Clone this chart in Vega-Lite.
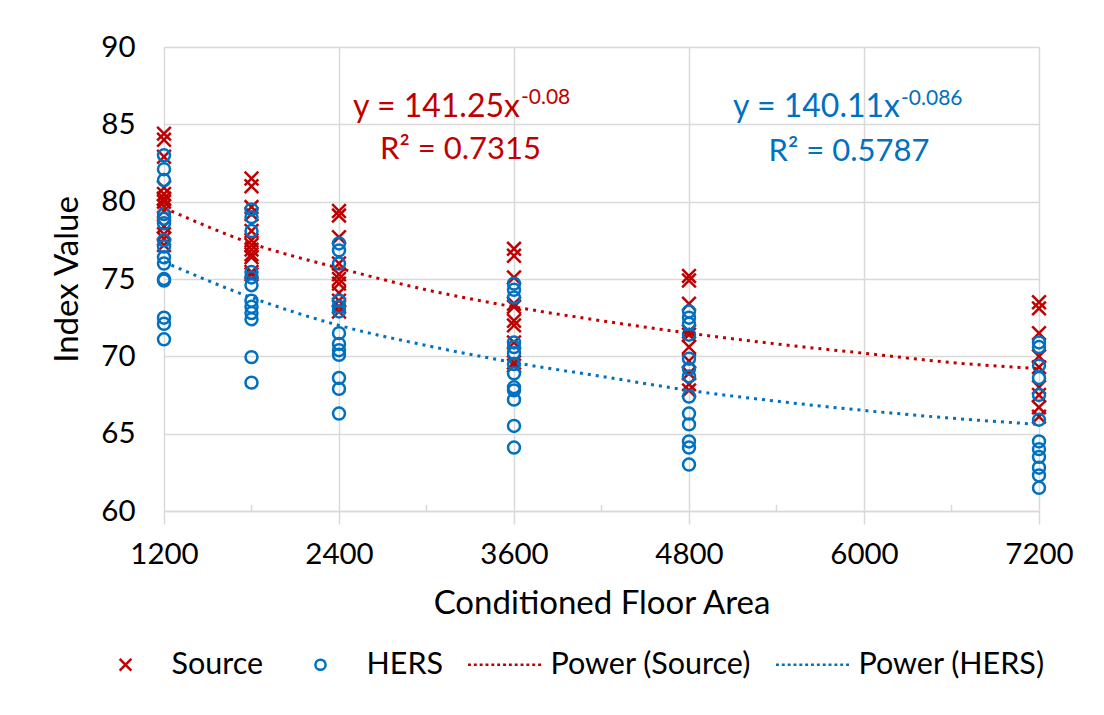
{
  "$schema": "https://vega.github.io/schema/vega-lite/v6.json",
  "width": 875,
  "height": 464,
  "autosize": "none",
  "padding": {"left": 164, "top": 47, "right": 65, "bottom": 204},
  "background": "white",
  "config": {
    "font": "Lato",
    "view": {"stroke": null},
    "axis": {
      "labelFont": "Lato", "titleFont": "Lato",
      "labelColor": "#000000", "titleColor": "#000000",
      "labelFontSize": 29.5, "titleFontSize": 33, "titleFontWeight": "normal",
      "gridColor": "#D9D9D9", "gridWidth": 1.5,
      "domainColor": "#D9D9D9", "domainWidth": 1.5,
      "tickColor": "#D9D9D9", "tickWidth": 1.5
    }
  },
  "datasets": {
    "pts": [
      {"series":"Source","area":1200,"value":84.4},{"series":"Source","area":1200,"value":84.0},{"series":"Source","area":1200,"value":82.9},{"series":"Source","area":1200,"value":80.9},{"series":"Source","area":1200,"value":80.5},{"series":"Source","area":1200,"value":80.2},{"series":"Source","area":1200,"value":80.0},{"series":"Source","area":1200,"value":79.7},{"series":"Source","area":1200,"value":79.4},{"series":"Source","area":1200,"value":78.4},{"series":"Source","area":1200,"value":77.9},{"series":"Source","area":1200,"value":77.6},{"series":"Source","area":1200,"value":77.2},
      {"series":"Source","area":1800,"value":81.5},{"series":"Source","area":1800,"value":81.0},{"series":"Source","area":1800,"value":79.65},{"series":"Source","area":1800,"value":79.2},{"series":"Source","area":1800,"value":78.1},{"series":"Source","area":1800,"value":77.5},{"series":"Source","area":1800,"value":77.2},{"series":"Source","area":1800,"value":76.9},{"series":"Source","area":1800,"value":76.6},{"series":"Source","area":1800,"value":76.4},{"series":"Source","area":1800,"value":75.45},{"series":"Source","area":1800,"value":75.3},
      {"series":"Source","area":2400,"value":79.4},{"series":"Source","area":2400,"value":79.1},{"series":"Source","area":2400,"value":77.7},{"series":"Source","area":2400,"value":76.0},{"series":"Source","area":2400,"value":75.3},{"series":"Source","area":2400,"value":75.0},{"series":"Source","area":2400,"value":74.7},{"series":"Source","area":2400,"value":74.1},{"series":"Source","area":2400,"value":73.6},{"series":"Source","area":2400,"value":73.2},{"series":"Source","area":2400,"value":72.9},
      {"series":"Source","area":3600,"value":76.95},{"series":"Source","area":3600,"value":76.5},{"series":"Source","area":3600,"value":75.1},{"series":"Source","area":3600,"value":73.4},{"series":"Source","area":3600,"value":73.2},{"series":"Source","area":3600,"value":72.3},{"series":"Source","area":3600,"value":72.0},{"series":"Source","area":3600,"value":70.9},{"series":"Source","area":3600,"value":69.6},{"series":"Source","area":3600,"value":69.4},
      {"series":"Source","area":4800,"value":75.2},{"series":"Source","area":4800,"value":74.9},{"series":"Source","area":4800,"value":73.4},{"series":"Source","area":4800,"value":71.6},{"series":"Source","area":4800,"value":71.4},{"series":"Source","area":4800,"value":70.6},{"series":"Source","area":4800,"value":69.7},{"series":"Source","area":4800,"value":68.9},{"series":"Source","area":4800,"value":68.2},{"series":"Source","area":4800,"value":67.8},
      {"series":"Source","area":7200,"value":73.5},{"series":"Source","area":7200,"value":73.1},{"series":"Source","area":7200,"value":71.5},{"series":"Source","area":7200,"value":70.0},{"series":"Source","area":7200,"value":69.3},{"series":"Source","area":7200,"value":68.0},{"series":"Source","area":7200,"value":67.5},{"series":"Source","area":7200,"value":66.7},{"series":"Source","area":7200,"value":66.1},
      {"series":"HERS","area":1200,"value":83.0},{"series":"HERS","area":1200,"value":82.1},{"series":"HERS","area":1200,"value":81.4},{"series":"HERS","area":1200,"value":79.2},{"series":"HERS","area":1200,"value":78.9},{"series":"HERS","area":1200,"value":78.6},{"series":"HERS","area":1200,"value":77.5},{"series":"HERS","area":1200,"value":77.1},{"series":"HERS","area":1200,"value":76.4},{"series":"HERS","area":1200,"value":76.0},{"series":"HERS","area":1200,"value":75.0},{"series":"HERS","area":1200,"value":74.9},{"series":"HERS","area":1200,"value":72.5},{"series":"HERS","area":1200,"value":72.1},{"series":"HERS","area":1200,"value":71.1},
      {"series":"HERS","area":1800,"value":79.5},{"series":"HERS","area":1800,"value":79.0},{"series":"HERS","area":1800,"value":78.1},{"series":"HERS","area":1800,"value":75.45},{"series":"HERS","area":1800,"value":75.1},{"series":"HERS","area":1800,"value":74.6},{"series":"HERS","area":1800,"value":73.6},{"series":"HERS","area":1800,"value":73.2},{"series":"HERS","area":1800,"value":72.8},{"series":"HERS","area":1800,"value":72.4},{"series":"HERS","area":1800,"value":69.95},{"series":"HERS","area":1800,"value":68.3},
      {"series":"HERS","area":2400,"value":77.3},{"series":"HERS","area":2400,"value":76.85},{"series":"HERS","area":2400,"value":76.0},{"series":"HERS","area":2400,"value":73.6},{"series":"HERS","area":2400,"value":73.2},{"series":"HERS","area":2400,"value":72.9},{"series":"HERS","area":2400,"value":71.5},{"series":"HERS","area":2400,"value":70.8},{"series":"HERS","area":2400,"value":70.4},{"series":"HERS","area":2400,"value":70.1},{"series":"HERS","area":2400,"value":68.6},{"series":"HERS","area":2400,"value":67.9},{"series":"HERS","area":2400,"value":66.3},
      {"series":"HERS","area":3600,"value":74.7},{"series":"HERS","area":3600,"value":74.3},{"series":"HERS","area":3600,"value":73.8},{"series":"HERS","area":3600,"value":70.9},{"series":"HERS","area":3600,"value":70.6},{"series":"HERS","area":3600,"value":70.2},{"series":"HERS","area":3600,"value":69.5},{"series":"HERS","area":3600,"value":68.9},{"series":"HERS","area":3600,"value":68.0},{"series":"HERS","area":3600,"value":67.8},{"series":"HERS","area":3600,"value":67.2},{"series":"HERS","area":3600,"value":65.5},{"series":"HERS","area":3600,"value":64.1},
      {"series":"HERS","area":4800,"value":72.9},{"series":"HERS","area":4800,"value":72.5},{"series":"HERS","area":4800,"value":72.1},{"series":"HERS","area":4800,"value":71.4},{"series":"HERS","area":4800,"value":69.85},{"series":"HERS","area":4800,"value":69.2},{"series":"HERS","area":4800,"value":68.7},{"series":"HERS","area":4800,"value":67.4},{"series":"HERS","area":4800,"value":66.3},{"series":"HERS","area":4800,"value":65.6},{"series":"HERS","area":4800,"value":64.5},{"series":"HERS","area":4800,"value":64.1},{"series":"HERS","area":4800,"value":63.0},
      {"series":"HERS","area":7200,"value":70.9},{"series":"HERS","area":7200,"value":70.6},{"series":"HERS","area":7200,"value":69.4},{"series":"HERS","area":7200,"value":68.6},{"series":"HERS","area":7200,"value":67.5},{"series":"HERS","area":7200,"value":65.9},{"series":"HERS","area":7200,"value":64.5},{"series":"HERS","area":7200,"value":64.0},{"series":"HERS","area":7200,"value":63.5},{"series":"HERS","area":7200,"value":62.8},{"series":"HERS","area":7200,"value":62.3},{"series":"HERS","area":7200,"value":61.5}
    ],
    "trend": [
      {"series":"Power (Source)","area":1200,"value":79.6},{"series":"Power (Source)","area":1800,"value":77.3},{"series":"Power (Source)","area":2400,"value":75.7},{"series":"Power (Source)","area":3000,"value":74.3},{"series":"Power (Source)","area":3600,"value":73.2},{"series":"Power (Source)","area":4200,"value":72.3},{"series":"Power (Source)","area":4800,"value":71.5},{"series":"Power (Source)","area":5400,"value":70.8},{"series":"Power (Source)","area":6000,"value":70.2},{"series":"Power (Source)","area":6600,"value":69.6},{"series":"Power (Source)","area":7200,"value":69.2},
      {"series":"Power (HERS)","area":1200,"value":76.1},{"series":"Power (HERS)","area":1800,"value":73.8},{"series":"Power (HERS)","area":2400,"value":72.0},{"series":"Power (HERS)","area":3000,"value":70.7},{"series":"Power (HERS)","area":3600,"value":69.6},{"series":"Power (HERS)","area":4200,"value":68.7},{"series":"Power (HERS)","area":4800,"value":67.8},{"series":"Power (HERS)","area":5400,"value":67.1},{"series":"Power (HERS)","area":6000,"value":66.5},{"series":"Power (HERS)","area":6600,"value":66.0},{"series":"Power (HERS)","area":7200,"value":65.6}
    ],
    "minor": [{"area":1800},{"area":3000},{"area":4200},{"area":5400},{"area":6600}],
    "ann": [
      {"series":"Source","kind":"main","area":3641,"value":85.47,"text":"y = 141.25x"},
      {"series":"Source","kind":"exp","area":3641,"value":86.33,"text":"-0.08"},
      {"series":"Source","kind":"r2","area":3233,"value":82.78,"text":"R² = 0.7315"},
      {"series":"HERS","kind":"main","area":6247,"value":85.47,"text":"y = 140.11x"},
      {"series":"HERS","kind":"exp","area":6247,"value":86.27,"text":"-0.086"},
      {"series":"HERS","kind":"r2","area":5897,"value":82.62,"text":"R² = 0.5787"}
    ]
  },
  "layer": [
    {
      "data": {"name": "pts"},
      "mark": {"type": "point", "filled": false, "strokeWidth": 2.5, "size": 7300, "opacity": 1},
      "encoding": {
        "x": {"field": "area", "type": "quantitative",
          "scale": {"domain": [1200, 7200], "nice": false, "zero": false},
          "axis": {"values": [1200, 2400, 3600, 4800, 6000, 7200], "format": "d", "tickSize": 13, "labelPadding": 16, "labelFlush": false, "labelOverlap": false, "title": "Conditioned Floor Area", "titlePadding": 19, "grid": true}},
        "y": {"field": "value", "type": "quantitative",
          "scale": {"domain": [60, 90], "nice": false, "zero": false},
          "axis": {"values": [60, 65, 70, 75, 80, 85, 90], "ticks": false, "domain": false, "labelPadding": 29, "title": "Index Value", "titlePadding": 16, "grid": true}},
        "color": {"field": "series", "type": "nominal",
          "scale": {"domain": ["Source", "HERS", "Power (Source)", "Power (HERS)"], "range": ["#C00000", "#0070C0", "#C00000", "#0070C0"]},
          "legend": {"orient": "none", "legendX": -76.5, "legendY": 579.5, "direction": "horizontal", "title": null, "symbolSize": 5329, "symbolStrokeWidth": 2.5, "labelFontSize": 30.5, "labelFont": "Lato", "labelColor": "#000000", "labelOffset": 8, "labelLimit": 400, "columnPadding": 19, "padding": 0}},
        "shape": {"field": "series", "type": "nominal",
          "scale": {"domain": ["Source", "HERS", "Power (Source)", "Power (HERS)"], "range": [
            "M-0.16,-0.16L0.16,0.16M0.16,-0.16L-0.16,0.16",
            "M0.14,0A0.14,0.14 0 1,1 -0.14,0A0.14,0.14 0 1,1 0.14,0Z",
            "M-1,0L-0.92,0M-0.84,0L-0.76,0M-0.68,0L-0.6,0M-0.52,0L-0.44,0M-0.36,0L-0.28,0M-0.2,0L-0.12,0M-0.04,0L0.04,0M0.12,0L0.2,0M0.28,0L0.36,0M0.44,0L0.52,0M0.6,0L0.68,0M0.76,0L0.84,0M0.92,0L1,0",
            "M-1,0L-0.92,0M-0.84,0L-0.76,0M-0.68,0L-0.6,0M-0.52,0L-0.44,0M-0.36,0L-0.28,0M-0.2,0L-0.12,0M-0.04,0L0.04,0M0.12,0L0.2,0M0.28,0L0.36,0M0.44,0L0.52,0M0.6,0L0.68,0M0.76,0L0.84,0M0.92,0L1,0"
          ]},
          "legend": {"orient": "none", "legendX": -76.5, "legendY": 579.5, "direction": "horizontal", "title": null, "symbolSize": 5329, "symbolStrokeWidth": 2.5, "labelFontSize": 30.5, "labelFont": "Lato", "labelColor": "#000000", "labelOffset": 8, "labelLimit": 400, "columnPadding": 19, "padding": 0}}
      }
    },
    {
      "data": {"name": "minor"},
      "mark": {"type": "rule", "color": "#D9D9D9", "strokeWidth": 1.5},
      "encoding": {
        "x": {"field": "area", "type": "quantitative"},
        "y": {"datum": 60},
        "y2": {"datum": 60.4}
      }
    },
    {
      "data": {"name": "trend"},
      "mark": {"type": "line", "strokeWidth": 3, "strokeDash": [3, 5], "interpolate": "monotone"},
      "encoding": {
        "x": {"field": "area", "type": "quantitative"},
        "y": {"field": "value", "type": "quantitative"},
        "stroke": {"field": "series", "type": "nominal",
          "scale": {"domain": ["Power (Source)", "Power (HERS)"], "range": ["#C00000", "#0070C0"]},
          "legend": null}
      }
    },
    {
      "data": {"name": "ann"},
      "transform": [{"filter": "datum.kind === 'main'"}],
      "mark": {"type": "text", "align": "right", "baseline": "alphabetic", "fontSize": 32, "font": "Lato"},
      "encoding": {
        "x": {"field": "area", "type": "quantitative"},
        "y": {"field": "value", "type": "quantitative"},
        "text": {"field": "text"},
        "fill": {"field": "series", "type": "nominal", "scale": {"domain": ["Source", "HERS"], "range": ["#C00000", "#0070C0"]}, "legend": null}
      }
    },
    {
      "data": {"name": "ann"},
      "transform": [{"filter": "datum.kind === 'exp'"}],
      "mark": {"type": "text", "align": "left", "baseline": "alphabetic", "fontSize": 21, "font": "Lato", "dx": 1},
      "encoding": {
        "x": {"field": "area", "type": "quantitative"},
        "y": {"field": "value", "type": "quantitative"},
        "text": {"field": "text"},
        "fill": {"field": "series", "type": "nominal", "scale": {"domain": ["Source", "HERS"], "range": ["#C00000", "#0070C0"]}, "legend": null}
      }
    },
    {
      "data": {"name": "ann"},
      "transform": [{"filter": "datum.kind === 'r2'"}],
      "mark": {"type": "text", "align": "center", "baseline": "alphabetic", "fontSize": 31, "font": "Lato"},
      "encoding": {
        "x": {"field": "area", "type": "quantitative"},
        "y": {"field": "value", "type": "quantitative"},
        "text": {"field": "text"},
        "fill": {"field": "series", "type": "nominal", "scale": {"domain": ["Source", "HERS"], "range": ["#C00000", "#0070C0"]}, "legend": null}
      }
    }
  ]
}
